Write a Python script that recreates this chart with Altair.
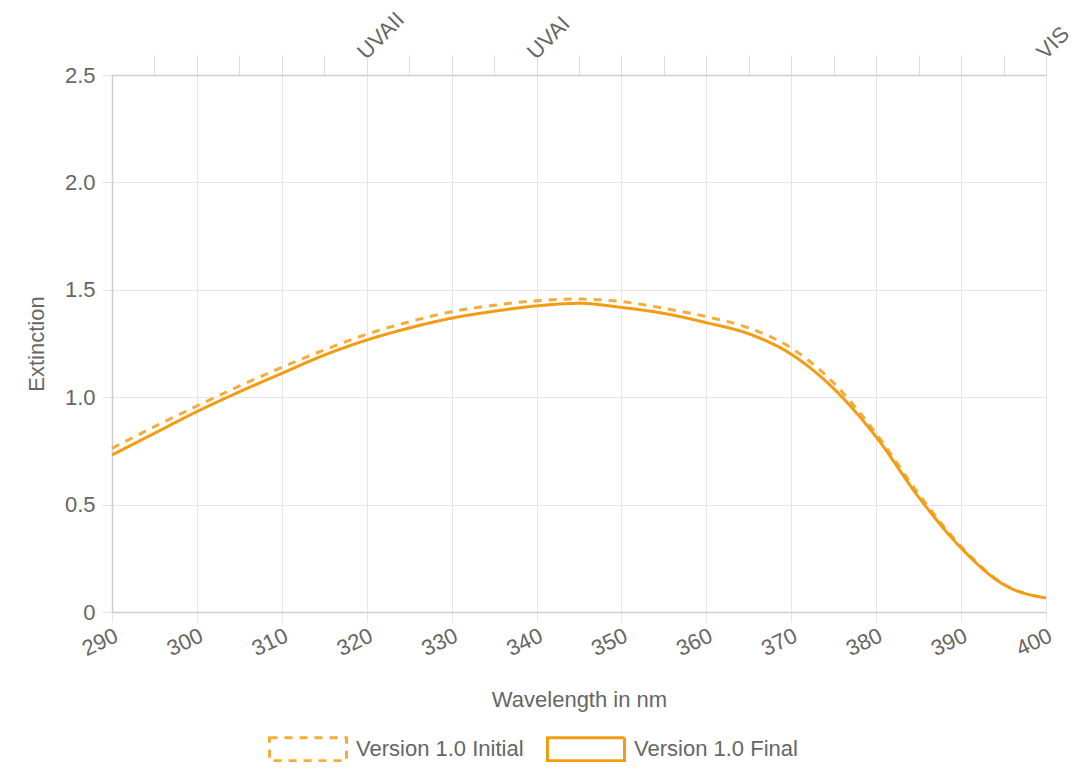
import altair as alt
import pandas as pd

# ---- data ----
wavelength = [290, 295, 300, 305, 310, 315, 320, 325, 330, 335, 340, 345,
              350, 355, 360, 365, 370, 375, 380, 385, 390, 395, 400]
initial = [0.762, 0.863, 0.959, 1.052, 1.139, 1.220, 1.293, 1.351, 1.398, 1.428,
           1.449, 1.457, 1.445, 1.414, 1.375, 1.322, 1.229, 1.066, 0.830, 0.550,
           0.305, 0.130, 0.065]
final = [0.731, 0.832, 0.933, 1.025, 1.111, 1.196, 1.266, 1.322, 1.368, 1.400,
         1.425, 1.437, 1.418, 1.390, 1.347, 1.295, 1.200, 1.040, 0.815, 0.535,
         0.298, 0.128, 0.065]
series_names = ["Version 1.0 Initial", "Version 1.0 Final"]
x_ticks = [290, 300, 310, 320, 330, 340, 350, 360, 370, 380, 390, 400]
top_ticks = [295, 300, 305, 310, 315, 320, 325, 330, 335, 340, 345, 350, 355,
             360, 365, 370, 375, 380, 385, 390, 395, 400]
band_values = [320, 340, 400]
band_labels = ["UVAII", "UVAI", "VIS"]
y_ticks = [0, 0.5, 1.0, 1.5, 2.0, 2.5]

rows = []
for name, vals in zip(series_names, [initial, final]):
    for w, v in zip(wavelength, vals):
        rows.append({"wavelength": w, "extinction": v, "series": name})
df = pd.DataFrame(rows)
top_df = pd.DataFrame({"wavelength": top_ticks})

FONT = "Liberation Sans"
TXT = "#666666"
GRID = "#e5e5e5"
DOMAIN = "#cfcfcf"
C_INIT = "#F5AC3A"
C_FINAL = "#F39C12"

x_scale = alt.Scale(domain=[290, 400], nice=False, zero=False)
y_scale = alt.Scale(domain=[0, 2.5], nice=False)

top_expr = " : ".join(
    [f"datum.value == {v} ? '{l}'" for v, l in zip(band_values, band_labels)]
) + " : ''"

legend = alt.Legend(
    title=None,
    orient="none",
    legendX=156,
    legendY=634,
    direction="horizontal",
    symbolType="M-1,-0.3H1V0.3H-1Z",
    symbolSize=5929,
    symbolStrokeWidth=3,
    symbolFillColor="transparent",
    labelFont=FONT,
    labelFontSize=22,
    labelColor=TXT,
    labelOffset=8,
    labelLimit=400,
    columnPadding=17,
    padding=0,
)

lines = alt.Chart(df).mark_line(strokeWidth=3, interpolate="monotone").encode(
    x=alt.X(
        "wavelength:Q",
        scale=x_scale,
        axis=alt.Axis(
            orient="bottom",
            values=x_ticks,
            title="Wavelength in nm",
            labelAngle=-25,
            labelAlign="right",
            labelBaseline="top",
            labelPadding=3,
            tickSize=10,
            titlePadding=30,
        ),
    ),
    y=alt.Y(
        "extinction:Q",
        scale=y_scale,
        axis=alt.Axis(
            values=y_ticks,
            labelExpr="datum.value == 0 ? '0' : format(datum.value, '.1f')",
            title="Extinction",
            tickSize=10,
            labelPadding=7,
            titlePadding=16,
        ),
    ),
    color=alt.Color(
        "series:N",
        scale=alt.Scale(domain=series_names, range=[C_INIT, C_FINAL]),
        legend=legend,
    ),
    strokeDash=alt.StrokeDash(
        "series:N",
        scale=alt.Scale(domain=series_names, range=[[8, 7], [1, 0]]),
        legend=legend,
    ),
)

top_axis = alt.Chart(top_df).mark_tick(opacity=0).encode(
    x=alt.X(
        "wavelength:Q",
        scale=x_scale,
        axis=alt.Axis(
            orient="top",
            values=top_ticks,
            labelExpr=top_expr,
            labelAngle=-45,
            labelAlign="left",
            labelBaseline="middle",
            labelPadding=0,
            labelOffset=-6,
            tickSize=20,
            grid=False,
            title=None,
            tickColor="#dddddd",
            domainColor=DOMAIN,
        ),
    ),
)

chart = (
    alt.layer(lines, top_axis)
    .resolve_axis(x="independent")
    .properties(
        width=934,
        height=537,
        autosize=alt.AutoSizeParams(type="none"),
        padding={"left": 104, "top": 67, "right": 27, "bottom": 150},
    )
    .configure_view(stroke=None)
    .configure_axis(
        labelFont=FONT,
        labelFontSize=22,
        labelColor=TXT,
        titleFont=FONT,
        titleFontSize=22,
        titleColor=TXT,
        titleFontWeight="normal",
        gridColor=GRID,
        gridWidth=1,
        tickColor=GRID,
        domainColor=DOMAIN,
        domainWidth=1.5,
        labelOverlap=False,
    )
)

chart.save("out.html", embed_options={"renderer": "svg", "actions": False})
